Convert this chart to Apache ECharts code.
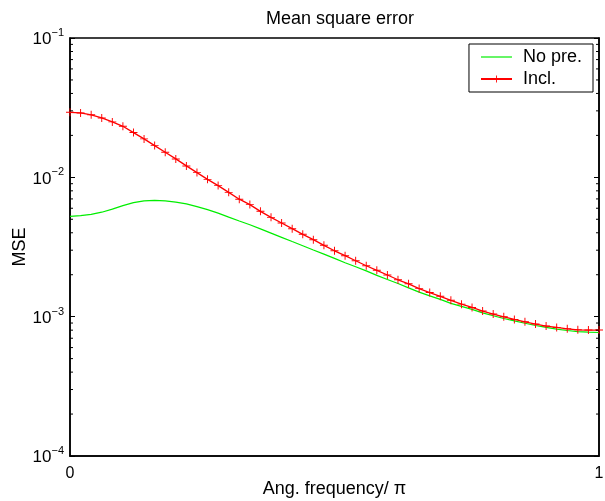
<!DOCTYPE html>
<html>
<head>
<meta charset="utf-8">
<script src="https://cdn.jsdelivr.net/npm/echarts@6/dist/echarts.min.js"></script>
<style>html,body{margin:0;padding:0;background:#fff;}#c{width:605px;height:501px;}</style>
</head>
<body>
<div id="c"></div>
<script>
// Angular frequency / pi
const freq = [0,0.02,0.04,0.06,0.08,0.10,0.12,0.14,0.16,0.18,0.20,0.22,0.24,0.26,0.28,0.30,0.32,0.34,0.36,0.38,0.40,
  0.42,0.44,0.46,0.48,0.50,0.52,0.54,0.56,0.58,0.60,0.62,0.64,0.66,0.68,0.70,0.72,0.74,0.76,0.78,0.80,
  0.82,0.84,0.86,0.88,0.90,0.92,0.94,0.96,0.98,1.00];
// MSE, no pre.
const mseNoPre = [0.00525,0.00531,0.00542,0.00562,0.00591,0.00627,0.00658,0.00678,0.00684,0.00678,0.00664,
  0.00645,0.00616,0.00586,0.00553,0.00518,0.00486,0.00457,0.00427,0.00398,0.00371,
  0.00346,0.00323,0.00301,0.00281,0.00262,0.00244,0.00228,0.00213,0.00198,0.00185,
  0.00173,0.00161,0.00150,0.00141,0.00133,0.001245,0.001185,0.001128,0.001065,0.001016,
  0.000970,0.000932,0.000897,0.000864,0.000837,0.000814,0.000796,0.000782,0.000774,0.000770];
// MSE, incl.
const mseIncl = [0.0293,0.0290,0.0281,0.0267,0.0250,0.02325,0.02095,0.01888,0.01689,0.01512,0.01356,
  0.01208,0.01081,0.00967,0.00872,0.00780,0.00697,0.00637,0.00570,0.00516,0.00470,
  0.00428,0.00390,0.00357,0.00325,0.00297,0.00274,0.00252,0.00232,0.00215,0.00199,
  0.00184,0.00172,0.00159,0.00149,0.00140,0.00131,0.00123,0.001165,0.001097,0.001044,
  0.000998,0.000955,0.000919,0.000885,0.000856,0.000837,0.000818,0.000805,0.000801,0.000801];
const seriesNames = ['No pre.', 'Incl.'];
const xTickLabels = ['0', '1'];
const titleText = 'Mean square error';
const xName = 'Ang. frequency/ \u03c0';
const yName = 'MSE';
const yMin = 1e-4, yMax = 1e-1;

const FONT = 'Liberation Sans, Arial, Helvetica, sans-serif';
const GREEN = '#00ee00';
const RED = '#ff0000';

// minor log ticks (2..9 x each decade)
const minorTicks = [];
for (let d = -4; d <= -2; d++) {
  for (let k = 2; k <= 9; k++) minorTicks.push([0, k * Math.pow(10, d)]);
}

const pairs = (ys) => freq.map((x, i) => [x, ys[i]]);

const yLabelFmt = function (v) {
  const e = Math.round(Math.log10(v));
  return '{b|10}{s|' + (e < 0 ? '\u2212' : '') + Math.abs(e) + '}';
};

const chart = echarts.init(document.getElementById('c'), null, { renderer: 'canvas' });
chart.setOption({
  animation: false,
  backgroundColor: '#fff',
  title: {
    text: titleText,
    left: 335, top: 5, textAlign: 'center',
    textStyle: { fontFamily: FONT, fontSize: 18, fontWeight: 'normal', color: '#000' }
  },
  grid: {
    left: 70, right: 6, top: 38, bottom: 45,
    outerBoundsMode: 'none', containLabel: false,
    show: true, borderColor: '#000', borderWidth: 1.5, backgroundColor: '#fff'
  },
  legend: {
    data: [
      { name: seriesNames[0], icon: 'path://M0,0h31v1.2h-31z', itemStyle: { color: GREEN } },
      { name: seriesNames[1] }
    ],
    orient: 'vertical',
    right: 12, top: 44,
    itemWidth: 31, itemHeight: 9, itemGap: 4,
    padding: [4, 11, 4, 11],
    backgroundColor: '#fff', borderColor: '#000', borderWidth: 1,
    textStyle: { fontFamily: FONT, fontSize: 18, color: '#000', lineHeight: 18, padding: [0, 0, 0, 6] }
  },
  xAxis: {
    type: 'value', min: 0, max: 1, interval: 1,
    name: xName, nameLocation: 'middle', nameGap: 24, nameMoveOverlap: false,
    nameTextStyle: { fontFamily: FONT, fontSize: 18, color: '#000' },
    axisLine: { show: true, lineStyle: { color: '#000', width: 1.5 } },
    axisTick: { show: false },
    splitLine: { show: false },
    axisLabel: {
      fontFamily: FONT, fontSize: 16, color: '#000', margin: 10,
      formatter: (v) => xTickLabels[Math.round(v)]
    }
  },
  yAxis: [{
    type: 'log', logBase: 10, min: yMin, max: yMax,
    name: yName, nameLocation: 'middle', nameGap: 41, nameMoveOverlap: false,
    nameTextStyle: { fontFamily: FONT, fontSize: 18, color: '#000' },
    axisLine: { show: true, lineStyle: { color: '#000', width: 1.5 } },
    axisTick: { show: true, inside: true, length: 5, lineStyle: { color: '#000', width: 1 } },
    splitLine: { show: false },
    axisLabel: {
      margin: 6, color: '#000',
      formatter: yLabelFmt,
      rich: {
        b: { fontFamily: FONT, fontSize: 17, color: '#000', padding: [3, 0, 0, 0] },
        s: { fontFamily: FONT, fontSize: 11, color: '#000', padding: [0, 0, 10, 0] }
      }
    }
  }, {
    type: 'log', logBase: 10, min: yMin, max: yMax, position: 'right',
    axisLine: { show: true, lineStyle: { color: '#000', width: 1.5 } },
    axisTick: { show: true, inside: true, length: 5, lineStyle: { color: '#000', width: 1 } },
    axisLabel: { show: false },
    splitLine: { show: false }
  }],
  series: [{
    name: seriesNames[0],
    type: 'line', yAxisIndex: 0,
    data: pairs(mseNoPre),
    showSymbol: false, symbol: 'none',
    lineStyle: { color: GREEN, width: 1.2 },
    itemStyle: { color: GREEN },
    z: 3
  }, {
    name: seriesNames[1],
    type: 'line', yAxisIndex: 0,
    data: pairs(mseIncl),
    symbol: 'path://M0,4.4h10v1.2h-10z M4.4,0h1.2v10h-1.2z',
    symbolSize: 8,
    showAllSymbol: true,
    lineStyle: { color: RED, width: 1.3 },
    itemStyle: { color: RED },
    z: 4
  }, {
    type: 'custom', yAxisIndex: 0, silent: true,
    data: minorTicks,
    renderItem: function (params, api) {
      const v = api.value(1);
      const pL = api.coord([0, v]);
      const pR = api.coord([1, v]);
      return {
        type: 'group',
        children: [
          { type: 'line', shape: { x1: pL[0], y1: pL[1], x2: pL[0] + 3, y2: pL[1] }, style: { stroke: '#000', lineWidth: 1 } },
          { type: 'line', shape: { x1: pR[0] - 3, y1: pR[1], x2: pR[0], y2: pR[1] }, style: { stroke: '#000', lineWidth: 1 } }
        ]
      };
    },
    z: 5
  }]
});
</script>
</body>
</html>
